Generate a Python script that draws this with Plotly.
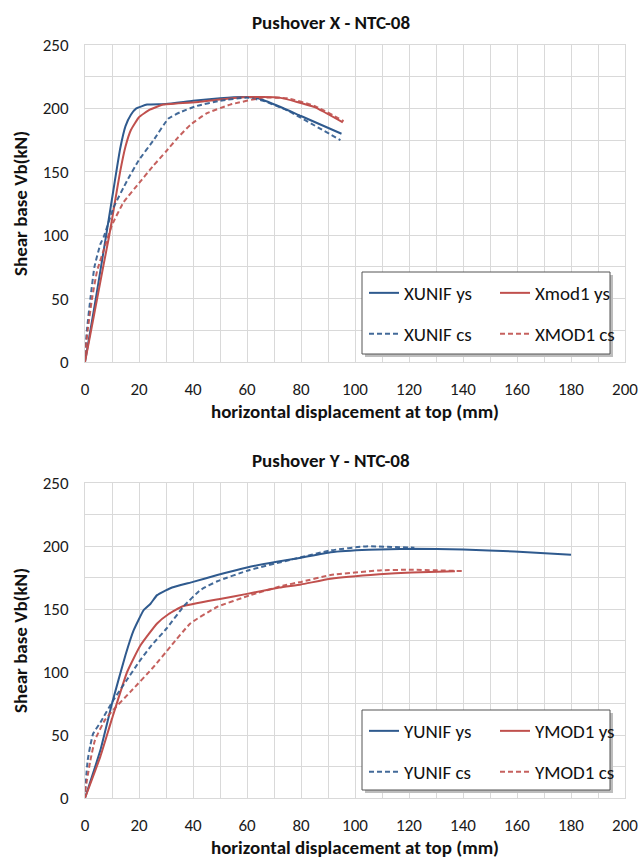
import plotly.graph_objects as go

# ---------------- data: Pushover X ----------------
XUNIF_ys_x = [0, 4, 8, 11, 13, 15, 17, 19, 23, 30, 40, 50, 58, 64, 72, 80, 95]
XUNIF_ys_y = [0, 50, 102, 142, 168, 186, 195, 200, 203, 203.5, 206, 208, 209, 208, 201.5, 194, 180]

Xmod1_ys_x = [0, 2, 4.5, 7, 9, 11, 13, 15, 17, 20, 24, 29, 42, 50, 60, 72, 85, 95.5]
Xmod1_ys_y = [0, 22, 50, 78, 100, 125, 150, 170, 183, 193, 199, 203, 205, 207, 209, 208.5, 201, 189]

XUNIF_cs_x = [0, 0.7, 2, 3.5, 5.7, 7, 10.6, 15.6, 19.9, 25.4, 30.9, 35.3, 41.5, 50, 60, 66, 74.8, 94.6]
XUNIF_cs_y = [5, 25, 50, 75, 93, 99, 122, 143, 159, 175, 192, 197, 202, 206, 208.5, 206, 198.5, 175]

XMOD1_cs_x = [0, 1, 2.6, 4.5, 7.5, 10, 14.3, 20, 25, 30, 34, 39, 45, 53.8, 66, 75, 85, 95.8]
XMOD1_cs_y = [5, 25, 50, 72, 92, 108, 126, 141, 154, 166, 176, 187, 196, 203, 208.5, 208, 202, 190]

# ---------------- data: Pushover Y ----------------
YUNIF_ys_x = [0, 5.7, 10, 15, 18, 21.7, 24.2, 26.7, 31.6, 40, 49, 60, 71, 80, 91, 105, 120.5, 140, 159, 180]
YUNIF_ys_y = [0, 38, 75, 113.5, 133, 149, 154, 161, 166.5, 171.5, 177, 183, 187.5, 190.7, 195, 197, 197.8, 197.2, 195.7, 193]

YMOD1_ys_x = [0, 5.7, 10, 15.6, 20.5, 26.7, 31, 36, 50, 60, 72, 80, 91, 109, 121, 137]
YMOD1_ys_y = [0, 33, 63, 100, 121, 138.5, 146, 152, 158, 162, 167, 169.5, 174, 177.5, 179, 180]

YUNIF_cs_x = [0, 1, 2, 3, 5.7, 10.6, 15.6, 20, 24.2, 30.4, 36.5, 42.7, 49, 61, 76, 91, 104, 122]
YUNIF_cs_y = [5, 30, 42, 51, 60, 78, 94, 108, 120, 135, 152, 165, 172, 181, 189, 196.5, 199.7, 198.7]

YMOD1_cs_x = [0, 2, 3.7, 7.4, 10.5, 16.7, 25.4, 31.6, 39, 48.9, 61, 73.6, 80, 91, 109, 120, 140]
YMOD1_cs_y = [5, 30, 46, 62, 70, 84, 104, 120, 138.5, 151.6, 160.8, 168.7, 171.5, 177, 180.6, 181.2, 180.1]

x_ticks = list(range(0, 201, 20))
y_ticks = list(range(0, 251, 50))

BLUE = "#2f5a8e"
RED = "#c0504d"
FONT = "Carlito, Calibri, Lato, sans-serif"
DASH = "5px,3px"

W, H = 643, 859
ML, MR, MT, MB = 85, 18, 45, 61
PW = W - ML - MR
PH = H - MT - MB


def py(p):  # pixel y -> paper y
    return (H - MB - p) / PH


def px(p):  # pixel x -> paper x
    return (p - ML) / PW


fig = go.Figure()

series = [
    ("XUNIF ys", XUNIF_ys_x, XUNIF_ys_y, BLUE, None, "x", "y", "legend"),
    ("Xmod1 ys", Xmod1_ys_x, Xmod1_ys_y, RED, None, "x", "y", "legend"),
    ("XUNIF cs", XUNIF_cs_x, XUNIF_cs_y, BLUE, DASH, "x", "y", "legend2"),
    ("XMOD1 cs", XMOD1_cs_x, XMOD1_cs_y, RED, DASH, "x", "y", "legend2"),
    ("YUNIF ys", YUNIF_ys_x, YUNIF_ys_y, BLUE, None, "x2", "y2", "legend3"),
    ("YMOD1 ys", YMOD1_ys_x, YMOD1_ys_y, RED, None, "x2", "y2", "legend3"),
    ("YUNIF cs", YUNIF_cs_x, YUNIF_cs_y, BLUE, DASH, "x2", "y2", "legend4"),
    ("YMOD1 cs", YMOD1_cs_x, YMOD1_cs_y, RED, DASH, "x2", "y2", "legend4"),
]
for name, xs, ys, col, dash, xa, ya, lg in series:
    fig.add_trace(go.Scatter(
        x=xs, y=ys, name=name, mode="lines", xaxis=xa, yaxis=ya, legend=lg,
        line=dict(color=col, width=2, dash=dash or "solid", shape="spline", smoothing=0.4),
        opacity=0.9 if dash else 1.0,
    ))

grid = "#d9d9d9"
top_dom = [py(362), 1.0]
bot_dom = [0.0, py(483)]

def xaxis(anchor):
    return dict(
        range=[0, 200], tickvals=x_ticks, showgrid=True, gridcolor=grid, gridwidth=1,
        minor=dict(dtick=10, showgrid=True, gridcolor=grid, gridwidth=1),
        zeroline=False, showline=True, linecolor=grid, mirror=True,
        tickfont=dict(family=FONT, size=17, color="#1a1a1a"), ticklabelstandoff=12,
        title=dict(text="<b>horizontal displacement at top (mm)</b>", font=dict(family=FONT, size=19, color="#111"), standoff=2),
        anchor=anchor, automargin=False, fixedrange=True,
    )

def yaxis(anchor, dom):
    return dict(
        range=[0, 250], tickvals=y_ticks, showgrid=True, gridcolor=grid, gridwidth=1,
        minor=dict(dtick=25, showgrid=True, gridcolor=grid, gridwidth=1),
        zeroline=False, showline=True, linecolor=grid, mirror=True,
        tickfont=dict(family=FONT, size=17, color="#1a1a1a"), ticklabelstandoff=12,
        title=dict(text="<b>Shear base Vb(kN)</b>", font=dict(family=FONT, size=19, color="#111"), standoff=10),
        anchor=anchor, domain=dom, automargin=False, fixedrange=True,
    )

def legend(xp, yp):
    return dict(
        orientation="h", x=px(xp), y=py(yp), xanchor="left", yanchor="middle",
        entrywidth=86, entrywidthmode="pixels", itemwidth=30, bgcolor="rgba(0,0,0,0)",
        font=dict(family=FONT, size=19, color="#111"), tracegroupgap=0,
    )

fig.update_layout(
    width=W, height=H, margin=dict(l=ML, r=MR, t=MT, b=MB, autoexpand=False),
    paper_bgcolor="white", plot_bgcolor="white", showlegend=True,
    xaxis=xaxis("y"), yaxis=yaxis("x", top_dom),
    xaxis2=xaxis("y2"), yaxis2=yaxis("x2", bot_dom),
    legend=legend(364, 293), legend2=legend(364, 334),
    legend3=legend(364, 731), legend4=legend(364, 772),
)

shapes = []
for (x0, y0, x1, y1) in [(362, 272, 610, 354), (362, 710, 610, 790)]:
    shapes.append(dict(type="rect", xref="paper", yref="paper", layer="above",
                       x0=px(x0 + 3), x1=px(x1 + 3), y0=py(y1 + 3), y1=py(y0 + 3),
                       fillcolor="#bdbdbd", line=dict(width=0)))
    shapes.append(dict(type="rect", xref="paper", yref="paper", layer="above",
                       x0=px(x0), x1=px(x1), y0=py(y1), y1=py(y0),
                       fillcolor="white", line=dict(color="#555", width=1)))
fig.update_layout(shapes=shapes)

fig.update_layout(annotations=[
    dict(text="<b>Pushover X - NTC-08</b>", xref="paper", yref="paper", x=px(331), y=py(22),
         showarrow=False, font=dict(family=FONT, size=19, color="#111"), xanchor="center", yanchor="middle"),
    dict(text="<b>Pushover Y - NTC-08</b>", xref="paper", yref="paper", x=px(331), y=py(461),
         showarrow=False, font=dict(family=FONT, size=19, color="#111"), xanchor="center", yanchor="middle"),
])

fig.write_html("out.html", config=dict(displayModeBar=False),
               post_script="document.body.style.margin='0';document.body.style.padding='0';")
